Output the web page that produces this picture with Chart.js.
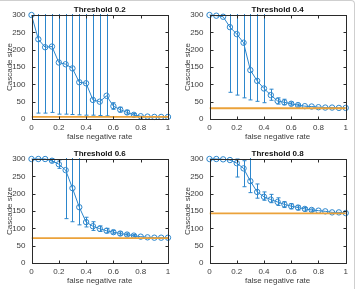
<!DOCTYPE html>
<html>
<head>
<meta charset="utf-8">
<script src="https://cdn.jsdelivr.net/npm/chart.js@4.4.1/dist/chart.umd.min.js"></script>
<style>
  html, body { margin: 0; padding: 0; background: #fff; }
  #fig { position: relative; width: 357px; height: 289px; overflow: hidden; }
  #fig canvas { position: absolute; }
  #frame { position: absolute; left: -2px; top: 0; width: 356px; height: 300px;
           border-top: 1px solid #cfcfcf; border-right: 1px solid #cfcfcf; border-top-right-radius: 4px; }
</style>
</head>
<body>
<div id="fig">
  <canvas id="c1" width="178" height="144" style="left:0;top:0"></canvas>
  <canvas id="c2" width="179" height="144" style="left:178px;top:0"></canvas>
  <canvas id="c3" width="178" height="145" style="left:0;top:144px"></canvas>
  <canvas id="c4" width="179" height="145" style="left:178px;top:144px"></canvas>
  <div id="frame"></div>
</div>
<script>
// x values: false negative rate
const falseNegRate = [0, 0.05, 0.1, 0.15, 0.2, 0.25, 0.3, 0.35, 0.4, 0.45, 0.5,
                      0.55, 0.6, 0.65, 0.7, 0.75, 0.8, 0.85, 0.9, 0.95, 1];
const xTicks = [0, 0.2, 0.4, 0.6, 0.8, 1];
const yTicks = [0, 50, 100, 150, 200, 250, 300];

const panelTitles = ['Threshold 0.2', 'Threshold 0.4', 'Threshold 0.6', 'Threshold 0.8'];
const baselineSize = [6, 31, 72, 143];

// mean cascade size + error bar ends (null = no visible bar)
const sizeT02 = [300, 230, 207, 209, 163, 158, 146, 106, 103, 55, 50, 67, 37, 27, 19, 12, 8, 7, 6, 6, 6];
const lowT02  = [null, 17, 17, 19, 14, 14, 13, 12, 11, 11, 10, 9, 28, 20, 14, 9, null, null, null, null, null];
const highT02 = [null, 320, 320, 320, 320, 320, 320, 320, 320, 320, 320, 320, 47, 34, 25, 16, null, null, null, null, null];

const sizeT04 = [300, 298, 295, 265, 245, 220, 141, 110, 88, 69, 52, 48, 44, 40, 37, 36, 34, 33, 33, 32, 32];
const lowT04  = [null, null, null, 77, 69, 61, 55, 51, 47, 54, 43, 41, 40, 37, null, null, null, null, null, null, null];
const highT04 = [null, null, null, 320, 320, 320, 320, 320, 320, 86, 61, 57, 49, 43, null, null, null, null, null, null, null];

const sizeT06 = [300, 300, 300, 295, 285, 268, 216, 161, 118, 106, 99, 93, 89, 85, 82, 79, 76, 74, 73, 73, 73];
const lowT06  = [null, null, null, 291, 273, 128, 119, 110, 104, 94, 91, 87, 84, 80, 78, 76, null, null, null, null, null];
const highT06 = [null, null, null, 300, 297, 320, 320, 320, 132, 119, 107, 100, 94, 90, 86, 82, null, null, null, null, null];

const sizeT08 = [300, 300, 299, 297, 288, 273, 236, 205, 191, 183, 176, 169, 164, 160, 156, 153, 151, 149, 146, 146, 144];
const lowT08  = [null, null, null, null, 248, 220, 203, 187, 181, 174, 166, 160, 156, 153, 150, 149, null, null, null, null, null];
const highT08 = [null, null, null, null, 300, 295, 320, 228, 205, 198, 188, 177, 171, 165, 160, 156, null, null, null, null, null];

const blue = '#2c86cc';
const orange = '#eba23a';
const axisColor = '#2a2a2a';
const textColor = '#3c3c3c';
const fontFam = '"Liberation Sans", Arial, Helvetica, sans-serif';

// vertical error bars with small caps, clipped to the axes box
const errorBarPlugin = {
  id: 'errorBars',
  beforeDatasetsDraw(chart) {
    const { ctx, chartArea: a, scales: { x, y } } = chart;
    const ds = chart.data.datasets.find(d => d.errLow);
    if (!ds) return;
    ctx.save();
    ctx.beginPath();
    ctx.rect(a.left, a.top - 1, a.width, a.height + 1);
    ctx.clip();
    ctx.strokeStyle = ds.borderColor;
    ctx.lineWidth = 1;
    ds.data.forEach((p, i) => {
      const lo = ds.errLow[i], hi = ds.errHigh[i];
      if (lo == null || hi == null) return;
      const px = Math.round(x.getPixelForValue(p.x)) + 0.5;
      const pl = y.getPixelForValue(lo), ph = y.getPixelForValue(hi);
      ctx.beginPath();
      ctx.moveTo(px, pl); ctx.lineTo(px, ph);
      ctx.moveTo(px - 2, pl); ctx.lineTo(px + 2, pl);
      ctx.moveTo(px - 2, ph); ctx.lineTo(px + 2, ph);
      ctx.stroke();
    });
    ctx.restore();
  }
};

// matlab style box with inward ticks on all four sides
const boxPlugin = {
  id: 'matlabBox',
  afterDraw(chart) {
    const { ctx, chartArea: a, scales: { x, y } } = chart;
    const L = Math.round(a.left) + 0.5, R = Math.round(a.right) + 0.5;
    const T = Math.round(a.top) + 0.5, B = Math.round(a.bottom) + 0.5;
    ctx.save();
    ctx.strokeStyle = axisColor;
    ctx.lineWidth = 1;
    ctx.strokeRect(L, T, R - L, B - T);
    ctx.beginPath();
    x.ticks.forEach(t => {
      const px = Math.round(x.getPixelForValue(t.value)) + 0.5;
      ctx.moveTo(px, B); ctx.lineTo(px, B - 3);
      ctx.moveTo(px, T); ctx.lineTo(px, T + 3);
    });
    y.ticks.forEach(t => {
      const py = Math.round(y.getPixelForValue(t.value)) + 0.5;
      ctx.moveTo(L, py); ctx.lineTo(L + 3, py);
      ctx.moveTo(R, py); ctx.lineTo(R - 3, py);
    });
    ctx.stroke();
    ctx.restore();
  }
};

function makePanel(canvasId, title, sizes, lows, highs, baseline, rightPad, xAxisHeight, xTitlePad) {
  const points = falseNegRate.map((r, i) => ({ x: r, y: sizes[i] }));
  new Chart(document.getElementById(canvasId), {
    type: 'line',
    data: {
      datasets: [
        {
          data: [{ x: 0, y: baseline }, { x: 1, y: baseline }],
          borderColor: orange,
          borderWidth: 1.8,
          pointRadius: 0
        },
        {
          data: points,
          errLow: lows,
          errHigh: highs,
          borderColor: blue,
          borderWidth: 1,
          pointRadius: 2.7,
          pointBorderWidth: 1,
          pointBackgroundColor: 'rgba(0,0,0,0)',
          pointBorderColor: blue,
          clip: false
        }
      ]
    },
    options: {
      responsive: false,
      animation: false,
      devicePixelRatio: 1,
      layout: { padding: { left: 0, right: rightPad, top: 0, bottom: 0 } },
      plugins: {
        legend: { display: false },
        tooltip: { enabled: false },
        title: {
          display: true,
          text: title,
          fullSize: false,
          color: '#111',
          font: { family: fontFam, size: 8, weight: 'bold' },
          padding: { top: 5, bottom: 0.4 }
        }
      },
      scales: {
        x: {
          type: 'linear',
          min: 0,
          max: 1,
          afterFit: s => { s.height = xAxisHeight; },
          afterBuildTicks: s => { s.ticks = xTicks.map(v => ({ value: v })); },
          grid: { display: false, drawTicks: false },
          border: { display: false },
          ticks: {
            padding: 3.5,
            color: textColor,
            font: { family: fontFam, size: 8 },
            callback: v => String(Number(v.toFixed(1)))
          },
          title: {
            display: true,
            text: 'false negative rate',
            color: textColor,
            font: { family: fontFam, size: 8 },
            padding: { top: 0, bottom: xTitlePad }
          }
        },
        y: {
          min: 0,
          max: 300,
          afterFit: s => { s.width = 31.5; },
          afterBuildTicks: s => { s.ticks = yTicks.map(v => ({ value: v })); },
          grid: { display: false, drawTicks: false },
          border: { display: false },
          ticks: { padding: 6, color: textColor, font: { family: fontFam, size: 8 } },
          title: {
            display: true,
            text: 'Cascade size',
            color: textColor,
            font: { family: fontFam, size: 8 },
            padding: { top: 5.2, bottom: 0 }
          }
        }
      }
    },
    plugins: [errorBarPlugin, boxPlugin]
  });
}

makePanel('c1', panelTitles[0], sizeT02, lowT02, highT02, baselineSize[0], 10, 25, 2.5);
makePanel('c2', panelTitles[1], sizeT04, lowT04, highT04, baselineSize[1], 11.3, 25, 2.5);
makePanel('c3', panelTitles[2], sizeT06, lowT06, highT06, baselineSize[2], 10, 26, 3.2);
makePanel('c4', panelTitles[3], sizeT08, lowT08, highT08, baselineSize[3], 11.3, 26, 3.2);
</script>
</body>
</html>
